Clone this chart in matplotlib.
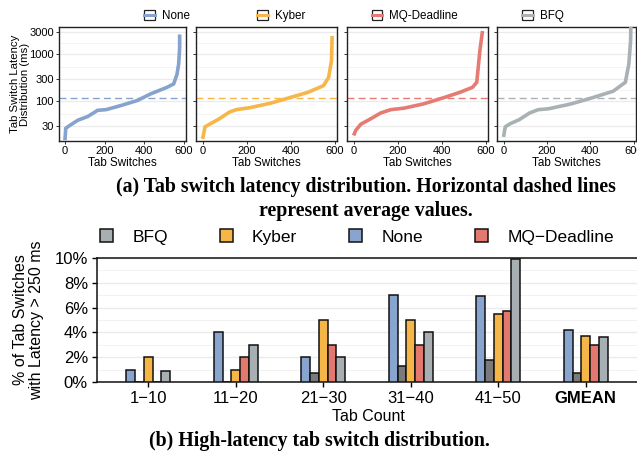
import matplotlib.pyplot as plt
import numpy as np
from matplotlib.lines import Line2D
from matplotlib.patches import Rectangle, Patch
from matplotlib.ticker import FixedLocator, NullFormatter

plt.rcParams['font.family'] = ['Liberation Sans', 'DejaVu Sans']

W, H = 637, 461

# ---- (a) sorted tab switch latencies (ms)
schedulers = ['None', 'Kyber', 'MQ-Deadline', 'BFQ']
line_colors = ['#85A3CD', '#F6B64A', '#E57B73', '#A9B1B4']

none_x = [0, 4, 24, 65, 115, 165, 207, 282, 365, 432, 515, 548, 565, 573, 578, 578]
none_y = [15, 27, 31, 40, 48, 65, 67, 82, 105, 145, 200, 236, 383, 620, 1390, 2640]
kyber_x = [0, 11, 37, 76, 123, 153, 216, 309, 402, 479, 549, 572, 585, 588]
kyber_y = [16, 29, 34, 43, 60, 67, 74, 92, 123, 157, 217, 325, 730, 2450]
mq_x = [0, 10, 33, 78, 123, 168, 228, 318, 408, 484, 540, 559, 573, 585]
mq_y = [19, 24.5, 33, 43, 57, 67, 72, 89, 120, 157, 200, 255, 1180, 3130]
bfq_x = [0, 8, 32, 72, 120, 160, 208, 312, 409, 505, 561, 577, 585, 587]
bfq_y = [17.7, 29, 34, 41, 57, 67, 70, 89, 120, 165, 255, 620, 1920, 6000]
avg_latency = [118, 119, 119, 120]

curve_x = [none_x, kyber_x, mq_x, bfq_x]
curve_y = [none_y, kyber_y, mq_y, bfq_y]

# ---- (b) % of tab switches with latency > 250 ms
tab_counts = ['1\u221210', '11\u221220', '21\u221230', '31\u221240', '41\u221250', 'GMEAN']
pct_none = [1.0, 4.0, 2.0, 7.0, 6.9, 4.2]
pct_dark = [0.0, 0.0, 0.7, 1.3, 1.8, 0.7]
pct_kyber = [2.0, 1.0, 5.0, 5.0, 5.5, 3.7]
pct_mq = [0.0, 2.0, 3.0, 3.0, 5.7, 3.0]
pct_bfq = [0.9, 3.0, 2.0, 4.0, 9.9, 3.6]
bar_colors = ['#87A5CF', '#7A7A7A', '#F5B547', '#E3786F', '#A8AFB2']


def px_axes(fig, left, top, right, bottom):
    return fig.add_axes([left / W, 1 - bottom / H, (right - left) / W, (bottom - top) / H])


fig = plt.figure(figsize=(W / 100, H / 100), dpi=100)

# top row of panels (pixel boxes)
boxes = [(59, 186), (196, 337), (347, 488), (497, 636)]
legend_cx = [167, 281, 415, 543]
for i in range(4):
    ax = px_axes(fig, boxes[i][0], 27, boxes[i][1], 141)
    ax.plot(curve_x[i], curve_y[i], color=line_colors[i], lw=2.6, solid_capstyle='butt', zorder=3)
    ax.axhline(avg_latency[i], color=line_colors[i], lw=1.0, ls=(0, (5, 3)), zorder=2)
    ax.set_yscale('log')
    ax.set_ylim(14.5, 3800)
    ax.set_xlim(-30, 610)
    ax.set_xticks([0, 200, 400, 600])
    ax.set_yticks([30, 100, 300, 1000, 3000])
    ax.yaxis.set_minor_locator(FixedLocator([17.3, 54.8, 173, 548, 1732]))
    ax.yaxis.set_minor_formatter(NullFormatter())
    ax.tick_params(which='minor', length=0)
    if i == 0:
        ax.set_yticklabels(['30', '100', '300', '1000', '3000'])
        ax.set_ylabel('Tab Switch Latency\nDistribution (ms)', fontsize=8.2, linespacing=1.1)
        ax.yaxis.set_label_coords(-0.225, 0.5)
    else:
        ax.set_yticklabels([])
    ax.tick_params(labelsize=8.0, length=2.5, width=0.7, pad=1.2, color='#333333')
    ax.set_xlabel('Tab Switches', fontsize=8.4, labelpad=0.3)
    ax.grid(True, which='major', axis='y', color='#EBEBEB', lw=0.9)
    ax.grid(True, which='minor', axis='y', color='#F2F2F2', lw=0.6)
    ax.set_axisbelow(True)
    for s in ax.spines.values():
        s.set_color('#222222')
        s.set_linewidth(1.0)
    handle = (Rectangle((0, 0), 1, 1, facecolor='white', edgecolor='#222222', lw=0.9),
              Line2D([], [], color=line_colors[i], lw=2.2))
    fig.legend([handle], [schedulers[i]], loc='center', bbox_to_anchor=(legend_cx[i] / W, 1 - 16 / H),
               frameon=False, fontsize=8.4, handlelength=0.9, handleheight=0.9, handletextpad=0.6,
               borderpad=0, borderaxespad=0)

# captions
cap = dict(family=['Liberation Serif', 'DejaVu Serif'], weight='bold', fontsize=14.3, ha='center', va='center')
fig.text(366 / W, 1 - 187 / H, '(a) Tab switch latency distribution. Horizontal dashed lines', **cap)
fig.text(366 / W, 1 - 211 / H, 'represent average values.', **cap)
fig.text(319 / W, 1 - 441 / H, '(b) High-latency tab switch distribution.', **cap)

# bottom bar chart
ax = px_axes(fig, 97, 258, 640, 382)
x = np.arange(len(tab_counts))
w = 0.1
series = [pct_none, pct_dark, pct_kyber, pct_mq, pct_bfq]
for k, vals in enumerate(series):
    ax.bar(x + (k - 2) * w, vals, w, color=bar_colors[k], edgecolor='#111111', lw=1.1, zorder=3)
ax.set_xlim(-0.585, 5.62)
ax.set_ylim(0, 10)
ax.set_yticks(range(0, 11, 2))
ax.set_yticklabels([f'{v}%' for v in range(0, 11, 2)])
ax.yaxis.set_minor_locator(FixedLocator([1, 3, 5, 7, 9]))
ax.tick_params(which='minor', length=0)
ax.set_xticks(x)
ax.set_xticklabels(tab_counts)
ax.get_xticklabels()[-1].set_fontweight('bold')
ax.tick_params(labelsize=12, length=3.5, width=1.0, pad=3)
ax.set_xlabel('Tab Count', fontsize=11.5, labelpad=2)
ax.set_ylabel('% of Tab Switches\nwith Latency > 250 ms', fontsize=11.5, linespacing=1.05)
ax.yaxis.set_label_coords(-0.098, 0.5)
ax.grid(True, which='major', axis='y', color='#EBEBEB', lw=1.0)
ax.grid(True, which='minor', axis='y', color='#F2F2F2', lw=0.7)
ax.set_axisbelow(True)
ax.spines['right'].set_visible(False)
for s in ['left', 'top', 'bottom']:
    ax.spines[s].set_linewidth(1.1)
    ax.spines[s].set_color('#111111')

legend_order = [4, 2, 0, 3]
legend_names = ['BFQ', 'Kyber', 'None', 'MQ\u2212Deadline']
handles = [Patch(facecolor=bar_colors[k], edgecolor='#111111', lw=1.1) for k in legend_order]
fig.legend(handles, legend_names, loc='center', bbox_to_anchor=(357 / W, 1 - 237 / H), ncol=4,
           frameon=False, fontsize=12.5, handlelength=0.75, handleheight=0.75, handletextpad=1.1,
           columnspacing=3.0, borderpad=0, borderaxespad=0)

fig.savefig('out.png', dpi=100)
